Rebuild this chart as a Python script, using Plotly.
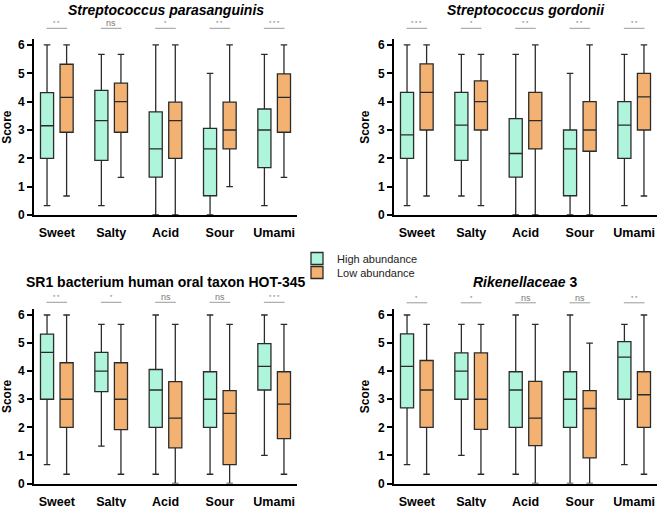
import plotly.graph_objects as go

CATEGORIES = ["Sweet", "Salty", "Acid", "Sour", "Umami"]
GROUPS = ["High abundance", "Low abundance"]
Y_TICKS = [0, 1, 2, 3, 4, 5, 6]

TITLES = [
    "<b><i>Streptococcus parasanguinis</i></b>",
    "<b><i>Streptococcus gordonii</i></b>",
    "<b>SR1 bacterium human oral taxon HOT-345</b>",
    "<b><i>Rikenellaceae</i> 3</b>",
]

# Box statistics per panel (lower whisker, Q1, median, Q3, upper whisker)
P1_HIGH = dict(lo=[0.33, 0.33, 0.0, 0.0, 0.33], q1=[2.0, 1.93, 1.34, 0.68, 1.67],
               med=[3.15, 3.33, 2.33, 2.33, 3.0], q3=[4.32, 4.4, 3.64, 3.06, 3.74],
               hi=[6.0, 5.67, 6.0, 5.0, 5.67])
P1_LOW = dict(lo=[0.67, 1.33, 0.0, 1.0, 1.33], q1=[2.92, 2.92, 2.0, 2.33, 2.92],
              med=[4.15, 4.0, 3.33, 3.0, 4.15], q3=[5.32, 4.65, 3.98, 3.98, 4.98],
              hi=[6.0, 5.67, 6.0, 6.0, 6.0])
P2_HIGH = dict(lo=[0.33, 0.67, 0.0, 0.0, 0.33], q1=[2.0, 1.93, 1.34, 0.68, 2.0],
               med=[2.83, 3.17, 2.17, 2.33, 3.17], q3=[4.33, 4.33, 3.4, 3.0, 4.0],
               hi=[6.0, 5.67, 5.67, 5.0, 5.67])
P2_LOW = dict(lo=[0.67, 0.33, 0.0, 0.0, 0.67], q1=[3.0, 3.0, 2.33, 2.25, 3.0],
              med=[4.33, 4.0, 3.33, 3.0, 4.17], q3=[5.33, 4.73, 4.33, 4.0, 5.0],
              hi=[6.0, 5.67, 6.0, 6.0, 6.0])
P3_HIGH = dict(lo=[0.67, 1.33, 0.33, 0.33, 1.0], q1=[3.0, 3.27, 2.0, 2.0, 3.33],
               med=[4.67, 4.0, 3.33, 3.0, 4.17], q3=[5.32, 4.67, 4.06, 3.98, 4.98],
               hi=[6.0, 5.67, 6.0, 6.0, 6.0])
P3_LOW = dict(lo=[0.33, 0.33, 0.0, 0.0, 0.33], q1=[2.0, 1.92, 1.27, 0.67, 1.6],
              med=[3.0, 3.0, 2.33, 2.5, 2.83], q3=[4.3, 4.3, 3.63, 3.31, 3.98],
              hi=[6.0, 5.67, 5.67, 5.67, 5.67])
P4_HIGH = dict(lo=[0.67, 1.0, 0.33, 0.0, 0.67], q1=[2.69, 3.0, 2.0, 2.0, 3.0],
               med=[4.17, 4.0, 3.33, 3.0, 4.5], q3=[5.33, 4.65, 3.98, 3.98, 5.05],
               hi=[6.0, 5.67, 6.0, 6.0, 5.67])
P4_LOW = dict(lo=[0.33, 0.33, 0.0, 0.0, 0.33], q1=[2.0, 1.93, 1.35, 0.91, 2.0],
              med=[3.33, 3.0, 2.33, 2.67, 3.16], q3=[4.38, 4.65, 3.64, 3.31, 3.98],
              hi=[5.67, 5.67, 5.67, 5.0, 6.0])

SIG_P1 = ["* *", "ns", "*", "* *", "* * *"]
SIG_P2 = ["* * *", "*", "* *", "* *", "* *"]
SIG_P3 = ["* *", "*", "ns", "ns", "* * *"]
SIG_P4 = ["*", "*", "ns", "ns", "* *"]

PANELS = [
    (P1_HIGH, P1_LOW, SIG_P1),
    (P2_HIGH, P2_LOW, SIG_P2),
    (P3_HIGH, P3_LOW, SIG_P3),
    (P4_HIGH, P4_LOW, SIG_P4),
]

W, H = 659, 507
FONT = "Arial, Liberation Sans, Helvetica, sans-serif"
FILLS = ["#aef5dc", "#f4b272"]
LINE = "#2b2b2b"

# Layout of panels in pixels: (x_left, x_right, y_top, y_bottom)
PANEL_PX = [
    (34, 297, 39.3, 215),
    (394, 657, 39.3, 215),
    (34, 297, 309.4, 483.5),
    (394, 657, 309.4, 483.5),
]
TITLE_Y_PX = [1, 1, 272.5, 272.5]
SIG_LINE_PX = [28.3, 28.3, 302.3, 302.8]
SIG_TEXT_PX = [22.5, 22.5, 297, 297.5]
LEGEND_TOP_PX = [244, 258]

fig = go.Figure()
layout = dict(
    width=W, height=H, margin=dict(l=0, r=0, t=0, b=0),
    paper_bgcolor="white", plot_bgcolor="white",
    boxmode="group", boxgap=0.28, boxgroupgap=0.33,
    font=dict(family=FONT, color="black"),
    showlegend=True,
)
for g in range(2):
    key = "legend" if g == 0 else "legend2"
    layout[key] = dict(x=297 / W, y=1 - LEGEND_TOP_PX[g] / H, xanchor="left",
                       yanchor="top", font=dict(size=11, family=FONT, color="#222"),
                       bgcolor="rgba(0,0,0,0)", itemwidth=30)
annotations = []
shapes = []

for p, (high, low, sig) in enumerate(PANELS):
    idx = "" if p == 0 else str(p + 1)
    xa, ya = "x" + idx, "y" + idx
    for g, stats in enumerate([high, low]):
        fig.add_trace(go.Box(
            x=CATEGORIES, q1=stats["q1"], median=stats["med"], q3=stats["q3"],
            lowerfence=stats["lo"], upperfence=stats["hi"],
            name=GROUPS[g], legendgroup=GROUPS[g], showlegend=(p == 0),
            legend="legend" if g == 0 else "legend2",
            alignmentgroup="panel%d" % p, offsetgroup="g%d" % g,
            fillcolor=FILLS[g], line=dict(color=LINE, width=1.3),
            whiskerwidth=0.5, boxpoints=False, xaxis=xa, yaxis=ya,
            hoverinfo="skip",
        ))
    x0, x1, yt, yb = PANEL_PX[p]
    layout["xaxis" + idx] = dict(
        domain=[x0 / W, x1 / W], anchor=ya, type="category",
        range=[-0.42, len(CATEGORIES) - 1 + 0.42],
        showline=True, linewidth=2, linecolor="black",
        ticks="outside", ticklen=5, tickcolor="rgba(0,0,0,0)",
        showgrid=False, zeroline=False, automargin=False,
        tickfont=dict(size=12.5, weight="bold", family=FONT, color="black"),
    )
    layout["yaxis" + idx] = dict(
        domain=[1 - yb / H, 1 - yt / H], anchor=xa, range=[0, 6.2],
        tickvals=Y_TICKS, showline=True, linewidth=2, linecolor="black",
        ticks="outside", ticklen=5, tickwidth=2, tickcolor="black",
        showgrid=False, zeroline=False, automargin=False,
        tickfont=dict(size=12, weight="bold", family=FONT, color="black"),
        title=dict(text="Score", standoff=6,
                   font=dict(size=12, weight="bold", family=FONT, color="black")),
    )
    annotations.append(dict(
        text=TITLES[p], x=(x0 + x1) / 2 / W, y=1 - TITLE_Y_PX[p] / H,
        xref="paper", yref="paper", xanchor="center", yanchor="top",
        showarrow=False, borderpad=0,
        font=dict(size=14, family=FONT, color="black"),
    ))
    for i, s in enumerate(sig):
        shapes.append(dict(
            type="line", xref=xa, yref="paper", x0=i - 0.19, x1=i + 0.19,
            y0=1 - SIG_LINE_PX[p] / H, y1=1 - SIG_LINE_PX[p] / H,
            line=dict(color="#9a9a9a", width=1),
        ))
        annotations.append(dict(
            text=s, x=i, y=1 - SIG_TEXT_PX[p] / H, xref=xa, yref="paper",
            xanchor="center", yanchor="middle", showarrow=False, borderpad=0,
            font=dict(size=9 if s == "ns" else 6, family=FONT, color="#777"),
        ))

layout["annotations"] = annotations
layout["shapes"] = shapes
fig.update_layout(**layout)
fig.write_html("out.html", config={"displayModeBar": False},
               post_script="document.body.style.margin='0';document.body.style.overflow='hidden';")
